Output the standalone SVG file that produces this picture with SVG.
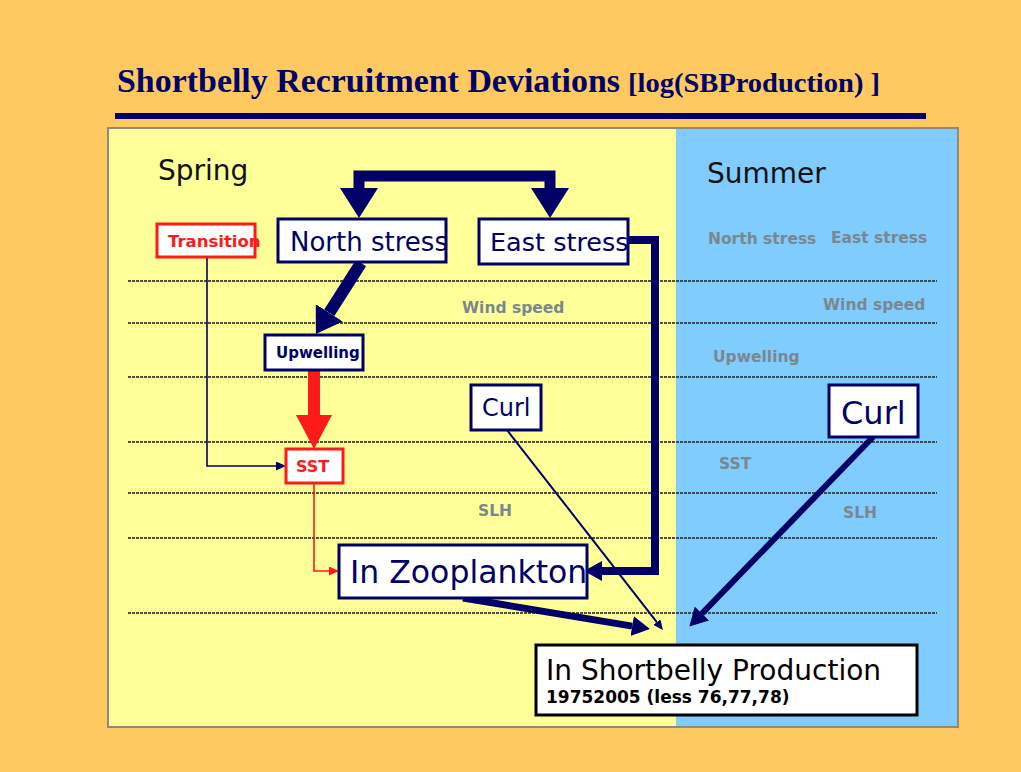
<svg xmlns="http://www.w3.org/2000/svg" width="1021" height="772" viewBox="0 0 1021 772">
<style>
.box{fill:#fff;stroke:#000066;stroke-width:3}
.rbox{fill:#fff;stroke:#ff1a1a;stroke-width:3}
.t{font-family:"DejaVu Sans",sans-serif;fill:#000066}
.k{font-family:"DejaVu Sans",sans-serif;fill:#111}
.g{font-family:"DejaVu Sans",sans-serif;font-weight:bold;fill:#7a878e;font-size:15.5px}
.dl{stroke:#333;stroke-width:1.8;stroke-dasharray:3 1;fill:none;opacity:0.85}
.nv{stroke:#000066;fill:none}
.rd{stroke:#ff1a1a;fill:none}
</style>
<defs>
<marker id="hTop" viewBox="0 0 30 38" refX="0" refY="19" markerWidth="30" markerHeight="38" markerUnits="userSpaceOnUse" orient="auto"><path d="M0,0L30,19L0,38z" fill="#000066"/></marker>
<marker id="hNS" viewBox="0 0 25 32" refX="0" refY="16" markerWidth="25" markerHeight="32" markerUnits="userSpaceOnUse" orient="auto"><path d="M0,0L25,16L0,32z" fill="#000066"/></marker>
<marker id="hRed" viewBox="0 0 34 36" refX="0" refY="18" markerWidth="34" markerHeight="36" markerUnits="userSpaceOnUse" orient="auto"><path d="M0,0L34,18L0,36z" fill="#ff1a1a"/></marker>
<marker id="hMed" viewBox="0 0 18 20" refX="0" refY="10" markerWidth="18" markerHeight="20" markerUnits="userSpaceOnUse" orient="auto"><path d="M0,0L18,10L0,20z" fill="#000066"/></marker>
<marker id="hSm" viewBox="0 0 10 9" refX="0" refY="4.5" markerWidth="10" markerHeight="9" markerUnits="userSpaceOnUse" orient="auto"><path d="M0,0L10,4.5L0,9z" fill="#000066"/></marker>
<marker id="hSmR" viewBox="0 0 10 9" refX="0" refY="4.5" markerWidth="10" markerHeight="9" markerUnits="userSpaceOnUse" orient="auto"><path d="M0,0L10,4.5L0,9z" fill="#ff1a1a"/></marker>
</defs>
<rect x="0" y="0" width="1021" height="772" fill="#ffc962"/>
<g id="title">
<text x="117" y="92" font-family="Liberation Serif,serif" font-weight="bold" fill="#000066" font-size="34" textLength="503" lengthAdjust="spacingAndGlyphs">Shortbelly Recruitment Deviations</text>
<text x="628" y="92" font-family="Liberation Serif,serif" font-weight="bold" fill="#000066" font-size="27" textLength="252" lengthAdjust="spacingAndGlyphs">[log(SBProduction) ]</text>
<rect x="115" y="113" width="811" height="6" fill="#000066"/>
</g>
<g id="panel">
<rect x="108" y="128" width="568" height="599" fill="#ffff99"/>
<rect x="676" y="128" width="282" height="599" fill="#80ccff"/>
<rect x="108" y="128" width="850" height="599" fill="none" stroke="#8f8a80" stroke-width="2"/>
</g>
<g id="gridlines">
<line class="dl" x1="128" y1="281" x2="937" y2="281"/>
<line class="dl" x1="128" y1="323" x2="937" y2="323"/>
<line class="dl" x1="128" y1="377" x2="937" y2="377"/>
<line class="dl" x1="128" y1="442" x2="937" y2="442"/>
<line class="dl" x1="128" y1="493" x2="937" y2="493"/>
<line class="dl" x1="128" y1="538" x2="937" y2="538"/>
<line class="dl" x1="128" y1="613" x2="937" y2="613"/>
</g>
<g id="labels">
<text class="k" x="158" y="180" font-size="28">Spring</text>
<text class="k" x="707" y="183" font-size="28">Summer</text>
<text class="g" x="462" y="313">Wind speed</text>
<text class="g" x="478" y="516">SLH</text>
<text class="g" x="708" y="244">North stress</text>
<text class="g" x="831" y="243">East  stress</text>
<text class="g" x="823" y="310">Wind speed</text>
<text class="g" x="713" y="362">Upwelling</text>
<text class="g" x="719" y="469">SST</text>
<text class="g" x="843" y="518">SLH</text>
</g>
<g id="connectors">
<path class="nv" stroke-width="11" d="M455,176H359V188" marker-end="url(#hTop)"/>
<path class="nv" stroke-width="11" d="M455,176H550V188" marker-end="url(#hTop)"/>
<path class="nv" stroke-width="12" d="M361,263L329.3,312.8" marker-end="url(#hNS)"/>
<path class="rd" stroke-width="12" d="M314,370V415" marker-end="url(#hRed)"/>
<path class="nv" stroke-width="1.6" d="M207,257V466H276" marker-end="url(#hSm)"/>
<path class="rd" stroke-width="1.6" d="M314,483V571H329" marker-end="url(#hSmR)"/>
<path class="nv" stroke-width="8" d="M628,240H655V571H602" marker-end="url(#hMed)"/>
<path class="nv" stroke-width="2" d="M507,430L656.8,622.1" marker-end="url(#hSm)"/>
<path class="nv" stroke-width="7" d="M463,598L632.2,626.1" marker-end="url(#hMed)"/>
<path class="nv" stroke-width="6" d="M873,437L701.9,613.6" marker-end="url(#hMed)"/>
</g>
<g id="transition">
<rect class="rbox" x="157" y="224" width="98" height="33"/>
<text x="168" y="247" font-family="DejaVu Sans,sans-serif" font-weight="bold" font-size="16.5" fill="#ff1a1a">Transition</text>
</g>
<g id="north-stress">
<rect class="box" x="278" y="219" width="168" height="43"/>
<text class="t" x="290" y="251" font-size="26">North stress</text>
</g>
<g id="east-stress">
<rect class="box" x="479" y="219" width="149" height="45"/>
<text class="t" x="490" y="251" font-size="25.5">East stress</text>
</g>
<g id="upwelling">
<rect class="box" x="265" y="335" width="98" height="35"/>
<text class="t" x="276" y="358" font-size="15" font-weight="bold">Upwelling</text>
</g>
<g id="curl-spring">
<rect class="box" x="471" y="385" width="70" height="45"/>
<text class="t" x="482" y="416" font-size="24">Curl</text>
</g>
<g id="sst">
<rect class="rbox" x="286" y="449" width="57" height="34"/>
<text x="296" y="472" font-family="DejaVu Sans,sans-serif" font-weight="bold" font-size="16" fill="#ff1a1a">SST</text>
</g>
<g id="zooplankton">
<rect class="box" x="339" y="545" width="248" height="53"/>
<text class="t" x="350" y="583" font-size="31.5">In Zooplankton</text>
</g>
<g id="curl-summer">
<rect class="box" x="829" y="385" width="89" height="52"/>
<text class="t" x="841" y="424" font-size="32">Curl</text>
</g>
<g id="shortbelly">
<rect x="536" y="645" width="381" height="70" fill="#fff" stroke="#000" stroke-width="3"/>
<text x="546" y="680" font-family="DejaVu Sans,sans-serif" font-size="28" fill="#000">In Shortbelly Production</text>
<text x="546" y="703" font-family="DejaVu Sans,sans-serif" font-weight="bold" font-size="17" fill="#000">19752005 (less 76,77,78)</text>
</g>
</svg>
